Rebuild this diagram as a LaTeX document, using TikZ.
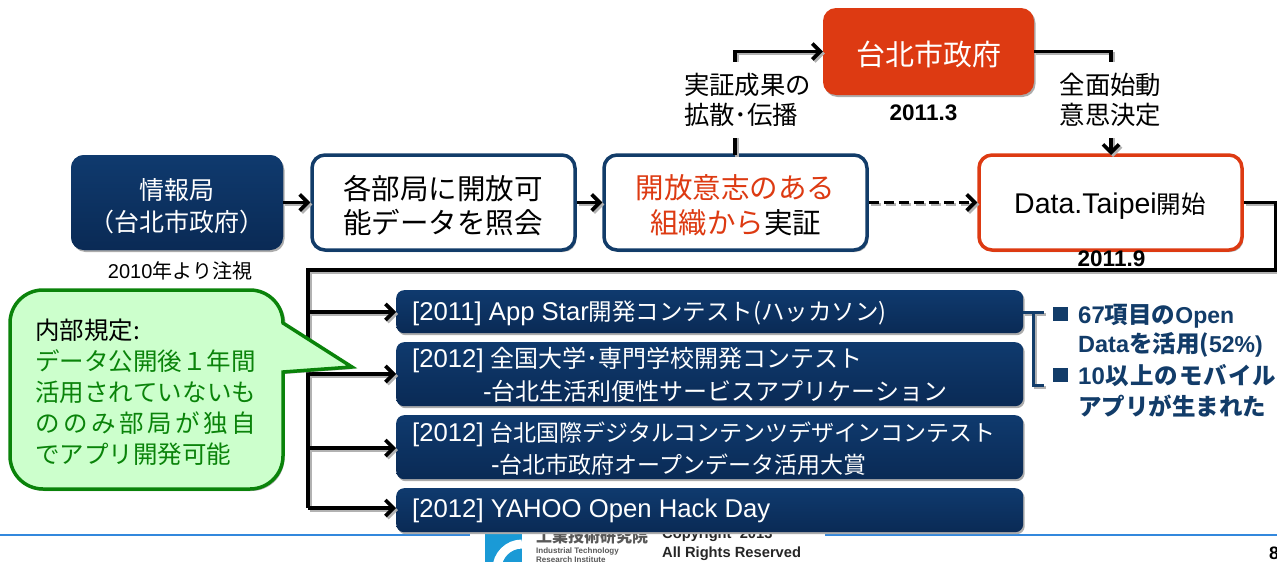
\documentclass[tikz,border=0pt]{standalone}
\usepackage{fontspec}
\setmainfont{Noto Sans CJK JP}
\newfontfamily\ar{Liberation Sans}
\usetikzlibrary{arrows.meta,shadows,calc}
\definecolor{navy}{HTML}{123C69}
\definecolor{navytop}{HTML}{0F3A6E}
\definecolor{navybot}{HTML}{0A2A55}
\definecolor{redc}{HTML}{DD3A12}
\definecolor{greenc}{HTML}{0A830A}
\definecolor{greenf}{HTML}{CCFFCC}
\definecolor{logoblue}{HTML}{1A9AD6}
\newcommand{\fs}[1]{\fontsize{#1}{#1}\selectfont}
% a connector with a grey offset shadow under it
\newcommand{\cn}[2][]{%
  \begin{scope}[transform canvas={xshift=2pt,yshift=-2pt}]
    \draw[#1,draw=gray!60,color=gray!60] #2;
  \end{scope}
  \draw[#1] #2;}
\newcommand{\sline}[1]{\makebox[221pt][s]{#1}}
\tikzset{
  x=1pt,y=-1pt,
  shd/.style={drop shadow={shadow xshift=1.5pt,shadow yshift=-2pt,fill=gray!65,opacity=1}},
  boxbase/.style={rounded corners=13pt,inner sep=0pt,align=center,shd},
  navybox/.style={boxbase,fill=navy,top color=navytop,bottom color=navybot,text=white},
  whitebox/.style={boxbase,fill=white,draw=navy,line width=3.5pt,text=black},
  redbox/.style={boxbase,fill=white,draw=redc,line width=3.5pt,text=black},
  topbox/.style={boxbase,fill=redc,text=white},
  barbox/.style={rounded corners=8pt,inner sep=0pt,shd,top color=navytop,bottom color=navybot,minimum width=627pt,anchor=north west},
  bartext/.style={anchor=west,inner sep=0pt,text=white,align=left,font=\fs{24}},
  plain/.style={inner sep=0pt,align=center,text=black},
  conn/.style={line width=3.8pt,draw=black},
  arrowc/.style={conn,-{Straight Barb[length=8pt,width=16pt,line width=3.6pt]}},
  brk/.style={line width=3pt,draw=navy},
  sq/.style={fill=navy,inner sep=0pt,minimum width=15pt,minimum height=14pt},
  ntext/.style={anchor=west,inner sep=0pt,text=navy,font=\bfseries\fs{23.5}},
}
\begin{document}
\begin{tikzpicture}
\useasboundingbox (0,0) rectangle (1277,562);
% footer
\draw[line width=2pt,draw={rgb,255:red,51;green,136;blue,221}] (0,534.5) -- (1277,534.5);
\fill[white] (470,528) rectangle (825,562);
\begin{scope}
\clip (485,530) rectangle (522,562);
\fill[logoblue] (485,530) rectangle (522,562);
\draw[white,line width=9pt] (522,544) arc[start angle=90,end angle=180,radius=25pt];
\end{scope}
\node[plain,anchor=west,text=black!65,font=\bfseries\fs{16}] (ja) at (536,536) {工業技術研究院};
\node[plain,anchor=west,text=black!65,font=\ar\bfseries\fs{8},align=left] (en) at (536,555) {Industrial Technology\\[1pt]Research Institute};
\node[plain,anchor=west,text=black!85,font=\ar\bfseries\fs{14.7}] (cp1) at (662,535) {Copyright\ \ 2013};
\node[plain,anchor=west,text=black!85,font=\ar\bfseries\fs{14.7}] (cp2) at (662,553.5) {All Rights Reserved};
\node[plain,font=\ar\bfseries\fs{18}] (pg) at (1274,553) {8};
% top nodes
\node[navybox,minimum width=212pt,minimum height=95pt] (a) at (177,202.5) {};
\node[whitebox,minimum width=263pt,minimum height=95pt] (b) at (443.5,202.5) {};
\node[whitebox,minimum width=263pt,minimum height=95pt] (c) at (735.5,202.5) {};
\node[redbox,minimum width=263pt,minimum height=95pt] (d) at (1110.5,202.5) {};
\node[topbox,minimum width=211pt,minimum height=87pt] (t) at (928.5,51.5) {};
\node[plain,text=white,font=\fs{25}] (at) at (177,206) {情報局\\[7pt]（台北市政府）};
\node[plain,font=\fs{28.5}] (bt) at (443,205.5) {各部局に開放可\\[6pt]能データを照会};
\node[plain,font=\fs{28.5}] (ct) at (735.5,205.5) {\textcolor{redc}{開放意志のある}\\[6pt]\textcolor{redc}{組織から}実証};
\node[plain,font=\fs{24.5}] (dt) at (1110,206) {{\ar\fs{28.5}Data.Taipei}開始};
\node[plain,text=white,font=\fs{29}] (tt) at (928.5,54) {台北市政府};
% elbows
\coordinate (cTop) at (735,155);
\coordinate (dTop) at (1111,155);
\cn[arrowc]{(cTop) |- (t.west)}
\cn[arrowc]{(t.east) -| (dTop)}
\node[plain,fill=white,font=\fs{25.4},align=left,minimum height=76pt] (l1) at (747.5,100) {実証成果の\\[4.6pt]拡散･伝播};
\node[plain,fill=white,font=\fs{25.4},minimum height=76pt] (l2) at (1110.5,100) {全面始動\\[4.6pt]意思決定};
\node[plain,font=\ar\bfseries\fs{22.5}] (d1) at (923.5,113) {2011.3};
\node[plain,font=\ar\bfseries\fs{22.5}] (d2) at (1111.5,259) {2011.9};
\node[plain,font=\fs{20}] (d0) at (180,271) {{\ar 2010}年より注視};
% bars
\node[barbox,minimum height=43pt] (b1) at (396,290) {};
\node[barbox,minimum height=64pt] (b2) at (396,342) {};
\node[barbox,minimum height=64pt] (b3) at (396,415) {};
\node[barbox,minimum height=44pt] (b4) at (396,488) {};
\node[bartext] (bt1) at (412,313.5) {{\ar\fs{25.7}[2011] App Star}{\fs{23.5}開発コンテスト(ハッカソン)}};
\node[bartext] (bt2) at (412,375) {{\ar\fs{25.7}[2012] }全国大学･専門学校開発コンテスト\\[6pt]\hspace{71pt}{\ar\fs{25.7}-}台北生活利便性サービスアプリケーション};
\node[bartext] (bt3) at (412,448.5) {{\ar\fs{25.7}[2012] }{\fs{23}台北国際デジタルコンテンツデザインコンテスト}\\[6pt]\hspace{79pt}{\ar\fs{25.7}-}{\fs{23}台北市政府オープンデータ活用大賞}};
\node[bartext] (bt4) at (412,511) {\ar\fs{25.7}[2012] YAHOO Open Hack Day};
% horizontal connectors
\cn[arrowc]{(a.east) -- (b.west)}
\cn[arrowc]{(b.east) -- (c.west)}
\cn[arrowc,dash pattern=on 10pt off 5pt]{(c.east) -- (d.west)}
\coordinate (rt) at (1276,202.5);
\coordinate (rb) at (1276,270);
\coordinate (lt) at (308,270);
\coordinate (j1) at (308,312);
\coordinate (j2) at (308,374);
\coordinate (j3) at (308,448);
\coordinate (j4) at (308,508);
\cn[conn]{(d.east) -- (rt) -- (rb) -- (lt) -- (j4)}
\cn[arrowc]{(j1) -- (b1.west |- j1)}
\cn[arrowc]{(j2) -- (b2.west |- j2)}
\cn[arrowc]{(j3) -- (b3.west |- j3)}
\cn[arrowc]{(j4) -- (b4.west |- j4)}
% callout
\path[fill=gray!65] (10,324) ++(1.5,2) arc[start angle=180,end angle=90,radius=33pt] -- (252.5,291)
  arc[start angle=90,end angle=0,radius=33pt] -- (284.5,325) -- (353.5,369) -- (284.5,374) -- (284.5,458)
  arc[start angle=0,end angle=-90,radius=33pt] -- (44.5,491) arc[start angle=270,end angle=180,radius=33pt] -- cycle;
\path[fill=greenf,draw=greenc,line width=3.5pt,line join=miter]
  (10,323) arc[start angle=180,end angle=90,radius=33pt] -- (250,290)
  arc[start angle=90,end angle=0,radius=33pt] -- (283,323) -- (352,367) -- (283,372) -- (283,456)
  arc[start angle=0,end angle=-90,radius=33pt] -- (43,489) arc[start angle=270,end angle=180,radius=33pt] -- cycle;
\node[plain,anchor=north west,align=left,font=\fs{24.5},text=greenc] (co) at (35,318.5)
  {\textcolor{black}{内部規定:}\\[6.5pt]データ公開後１年間\\[6.5pt]\sline{活\hfil 用\hfil さ\hfil れ\hfil て\hfil い\hfil な\hfil い\hfil も}\\[6.5pt]\sline{の\hfil の\hfil み\hfil 部\hfil 局\hfil が\hfil 独\hfil 自}\\[6.5pt]でアプリ開発可能};
% bracket
\coordinate (br1) at (1044,312.5);
\coordinate (bm) at (1033,312.5);
\coordinate (bb) at (1033,385);
\coordinate (br2) at (1044,385);
\cn[brk]{(b1.east |- br1) -- (br1)}
\cn[brk]{(bm) -- (bb) -- (br2)}
% notes
\node[sq] (s1) at (1060.5,314) {};
\node[sq] (s2) at (1060.5,375) {};
\node[ntext] (n1) at (1078,316) {{\ar\fs{24}67}項目の{\ar\fs{23}Open}};
\node[ntext] (n2) at (1078,345) {{\ar\fs{23.5}Data}を活用{(\ar\fs{23}52\%)}};
\node[ntext] (n3) at (1078,376) {\makebox[198pt][s]{{\ar\fs{24}10}\hfil 以\hfil 上\hfil の\hfil モ\hfil バ\hfil イ\hfil ル}};
\node[ntext] (n4) at (1078,406) {アプリが生まれた};
\end{tikzpicture}
\end{document}
